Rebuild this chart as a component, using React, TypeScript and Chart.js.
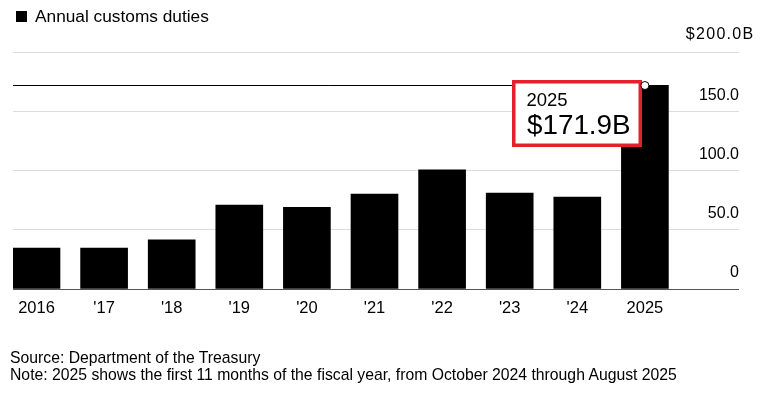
import React, { useEffect, useRef } from 'react';
import { Chart, registerables } from 'chart.js';

Chart.register(...registerables);

const categories = ['2016', "'17", "'18", "'19", "'20", "'21", "'22", "'23", "'24", '2025'];
const duties = [34.6, 34.6, 41.5, 70.8, 69.0, 80.0, 100.5, 81.0, 77.5, 171.9];
const yTickValues = [0, 50, 100, 150, 200];
const highlightIndex = 9;
const highlightYear = '2025';
const highlightLabel = '$171.9B';
const titleText = 'Annual customs duties';
const sourceText = 'Source: Department of the Treasury';
const noteText = 'Note: 2025 shows the first 11 months of the fiscal year, from October 2024 through August 2025';

const FONT = '"Liberation Sans", Arial, Helvetica, sans-serif';

function fmtY(v: number) {
  if (v === 0) return '0';
  if (v === 200) return '$' + v.toFixed(1) + 'B';
  return v.toFixed(1);
}

const yLabelPlugin = {
  id: 'yLabels',
  afterDraw(chart: any) {
    const ys = chart.scales.y;
    const ctx = chart.ctx;
    const right = chart.chartArea.right;
    ctx.save();
    ctx.font = `16px ${FONT}`;
    ctx.fillStyle = '#000';
    ctx.textAlign = 'right';
    ctx.textBaseline = 'middle';
    ys.ticks.forEach((t: any) => {
      const py = ys.getPixelForValue(t.value);
      const isTop = t.value === 200;
      if (isTop) {
        (ctx as any).letterSpacing = '1.3px';
        ctx.fillText(fmtY(t.value), right + 15.5, py - 17);
        (ctx as any).letterSpacing = '0px';
      } else {
        ctx.fillText(fmtY(t.value), right, py - 16);
      }
    });
    ctx.restore();
  },
};

const annotationPlugin = {
  id: 'highlight',
  afterDatasetsDraw(chart: any) {
    const xs = chart.scales.x;
    const ys = chart.scales.y;
    const ctx = chart.ctx;
    const px = xs.getPixelForValue(highlightIndex);
    const py = Math.round(ys.getPixelForValue(duties[highlightIndex])) + 0.5;
    ctx.save();
    // reference line
    ctx.strokeStyle = '#000';
    ctx.lineWidth = 1;
    ctx.beginPath();
    ctx.moveTo(chart.chartArea.left, py);
    ctx.lineTo(px, py);
    ctx.stroke();
    // box
    const w = 130;
    const h = 67;
    const left = Math.round(px - 133);
    const top = Math.round(py - 5.5);
    ctx.fillStyle = '#fff';
    ctx.fillRect(left, top, w, h);
    ctx.strokeStyle = '#e3202b';
    ctx.lineWidth = 3.5;
    ctx.strokeRect(left + 1.75, top + 1.75, w - 3.5, h - 3.5);
    ctx.fillStyle = '#000';
    ctx.textAlign = 'left';
    ctx.textBaseline = 'middle';
    ctx.font = `18.5px ${FONT}`;
    ctx.fillText(highlightYear, left + 14.5, top + 21);
    ctx.font = `27.8px ${FONT}`;
    ctx.fillText(highlightLabel, left + 15, top + 46);
    // marker
    ctx.beginPath();
    ctx.arc(px, py, 4, 0, Math.PI * 2);
    ctx.fillStyle = '#fff';
    ctx.fill();
    ctx.lineWidth = 1;
    ctx.strokeStyle = '#000';
    ctx.stroke();
    ctx.restore();
  },
};

export default function App() {
  const ref = useRef<HTMLCanvasElement | null>(null);

  useEffect(() => {
    if (!ref.current) return;
    const chart = new Chart(ref.current, {
      type: 'bar',
      data: {
        datasets: [
          {
            label: titleText,
            data: duties.map((v, i) => ({ x: i, y: v })),
            backgroundColor: '#000',
            barThickness: 47,
          },
        ],
      },
      options: {
        responsive: false,
        animation: false,
        layout: { padding: { top: 52, left: 13, right: 26, bottom: 0 } },
        plugins: { legend: { display: false }, tooltip: { enabled: false } },
        scales: {
          x: {
            type: 'linear',
            offset: false,
            min: -0.3476,
            max: 10.392,
            grid: { display: false, drawTicks: false, offset: false },
            border: { display: false },
            ticks: {
              stepSize: 1,
              includeBounds: false,
              autoSkip: false,
              maxRotation: 0,
              padding: 10,
              color: '#000',
              font: { family: FONT, size: 16.5 },
              callback: (v: any) => categories[v] ?? '',
            },
            afterFit: (s: any) => {
              s.height = 105;
            },
          },
          y: {
            position: 'right',
            min: 0,
            max: 200,
            border: { display: false },
            grid: {
              drawTicks: false,
              lineWidth: 1,
              color: (c: any) => (c.tick && c.tick.value === 0 ? '#555' : '#dcdcdc'),
            },
            ticks: { display: false },
            afterBuildTicks: (s: any) => {
              s.ticks = yTickValues.map((v) => ({ value: v }));
            },
          },
        },
      } as any,
      plugins: [annotationPlugin, yLabelPlugin],
    });
    return () => chart.destroy();
  }, []);

  return (
    <div style={{ position: 'fixed', left: 0, top: 0, width: 765, height: 394, background: '#fff', overflow: 'hidden' }}>
      <canvas ref={ref} width={765} height={394} style={{ position: 'absolute', left: 0, top: 0, display: 'block' }} />
      <div
        style={{
          position: 'absolute',
          left: 16,
          top: 6,
          height: 20,
          lineHeight: '20px',
          fontFamily: FONT,
          fontSize: 17.3,
          color: '#000',
          whiteSpace: 'nowrap',
          display: 'flex',
          alignItems: 'center',
        }}
      >
        <span style={{ display: 'inline-block', width: 11, height: 11, background: '#000', marginRight: 8 }} />
        <span>{titleText}</span>
      </div>
      <div
        style={{
          position: 'absolute',
          left: 10,
          top: 349,
          lineHeight: '17px',
          fontFamily: FONT,
          fontSize: 15.75,
          color: '#000',
          whiteSpace: 'nowrap',
        }}
      >
        <div>{sourceText}</div>
        <div>{noteText}</div>
      </div>
    </div>
  );
}
